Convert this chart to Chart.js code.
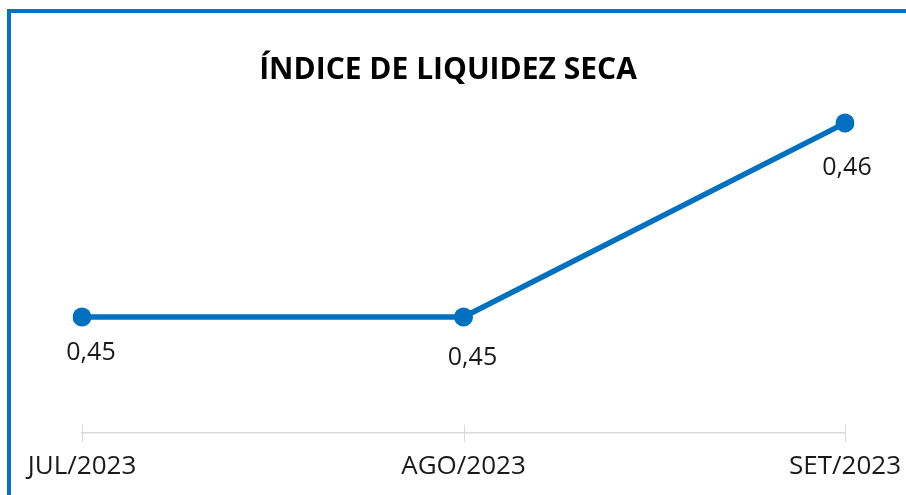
<!DOCTYPE html>
<html>
<head>
<meta charset="utf-8">
<script src="https://cdn.jsdelivr.net/npm/chart.js@4"></script>
<style>
  body { margin: 0; background: #fff; }
  .wrap { position: relative; width: 906px; height: 495px; overflow: hidden; }
  .frame {
    position: absolute; left: 7px; top: 9px; width: 1000px; height: 600px;
    border-left: 4px solid #0A70C2; border-top: 4px solid #0A70C2;
    pointer-events: none;
  }
</style>
</head>
<body>
<div class="wrap">
  <canvas class="liq-canvas" width="906" height="495"></canvas>
  <div class="frame"></div>
</div>
<script>
const liqCanvas = document.querySelector(".liq-canvas")

// dados
const meses = ["JUL/2023", "AGO/2023", "SET/2023"];
const indice = [0.45, 0.45, 0.46];
const titulo = "ÍNDICE DE LIQUIDEZ SECA";

const azul = "#0070C0";

// rótulos de valor abaixo de cada ponto
const rotulos = {
    id: "rotulos",
    afterDatasetsDraw(chart) {
        const ctx = chart.ctx;
        const meta = chart.getDatasetMeta(0);
        const offX = [9, 9, 2];
        const offY = [36, 41, 45];
        ctx.save();
        ctx.font = "25px 'Open Sans'";
        ctx.fillStyle = "#1a1a1a";
        ctx.textAlign = "center";
        ctx.textBaseline = "middle";
        meta.data.forEach((pt, i) => {
            const txt = indice[i].toFixed(2).replace(".", ",");
            ctx.fillText(txt, pt.x + offX[i], pt.y + offY[i]);
        });
        ctx.restore();
    }
};

// marcas do eixo x cruzando a linha
const marcas = {
    id: "marcas",
    afterDraw(chart) {
        const ctx = chart.ctx;
        const x = chart.scales.x;
        const y0 = chart.chartArea.bottom;
        ctx.save();
        ctx.strokeStyle = "#d9d9d9";
        ctx.lineWidth = 1;
        x.ticks.forEach((t, i) => {
            const px = Math.round(x.getPixelForTick(i)) + 0.5;
            ctx.beginPath();
            ctx.moveTo(px, y0 - 8);
            ctx.lineTo(px, y0 + 9);
            ctx.stroke();
        });
        ctx.restore();
    }
};

new Chart(liqCanvas, {
    type: "line",
    data: {
        labels: meses,
        datasets: [
            {
                label: titulo,
                data: indice,
                borderColor: azul,
                backgroundColor: azul,
                borderWidth: 5.5,
                pointRadius: 9.5,
                pointBorderWidth: 0,
                pointBackgroundColor: azul,
                tension: 0
            }
        ]
    },
    options: {
        responsive: false,
        animation: false,
        layout: {
            padding: { left: 51, right: 61, top: 0, bottom: 0 }
        },
        plugins: {
            legend: { display: false },
            tooltip: { enabled: false },
            title: {
                display: true,
                text: titulo,
                color: "#000",
                font: { family: "'Open Sans'", size: 30, weight: "bold" },
                padding: { top: 52.7, bottom: 11.3 }
            }
        },
        scales: {
            x: {
                offset: false,
                grid: { display: true, drawOnChartArea: false, drawTicks: false },
                border: { display: true, color: "#d9d9d9", width: 1.5 },
                ticks: {
                    color: "#1a1a1a",
                    font: { family: "'Open Sans'", size: 26 },
                    padding: 18,
                    maxRotation: 0,
                    autoSkip: false
                },
                afterFit(scale) {
                    scale.height = 62;
                    scale.paddingLeft = 0;
                    scale.paddingRight = 0;
                }
            },
            y: {
                display: true,
                min: 0.44402,
                max: 0.46119,
                grid: { display: false },
                border: { display: false },
                ticks: { display: false },
                afterFit(scale) { scale.width = 31; }
            }
        }
    },
    plugins: [rotulos, marcas]
});
</script>
</body>
</html>
